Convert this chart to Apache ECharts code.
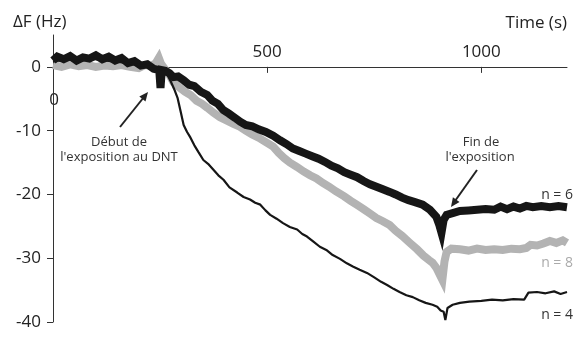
<!DOCTYPE html>
<html><head><meta charset="utf-8">
<script src="https://cdn.jsdelivr.net/npm/echarts@6/dist/echarts.min.js"></script>
<style>html,body{margin:0;padding:0;background:#fff}#c{width:576px;height:347px}</style>
</head><body><div id="c"></div>
<script>
// Time (s), ΔF (Hz)
const seriesN6 = [[0,1.0],[10,1.6],[25,1.2],[40,1.7],[55,1.0],[70,1.5],[85,1.3],[100,1.8],[115,1.2],[130,1.6],[145,1.0],[160,1.4],[175,0.6],[190,0.9],[205,0.2],[220,0.4],[235,-0.3],[248,-0.5],[251,-3.3],[254,-0.5],[262,-0.6],[272,-1.0],[281,-1.6],[292,-1.5],[305,-2.1],[318,-2.8],[330,-3.0],[345,-3.9],[360,-4.4],[372,-5.3],[385,-5.8],[398,-6.8],[410,-7.3],[425,-8.0],[437,-8.6],[450,-9.1],[465,-9.3],[480,-9.8],[497,-10.2],[514,-10.8],[530,-11.5],[545,-12.1],[560,-12.8],[575,-13.2],[590,-13.6],[605,-14.0],[620,-14.4],[635,-14.9],[650,-15.5],[665,-15.9],[680,-16.5],[695,-16.9],[710,-17.3],[725,-17.9],[740,-18.4],[755,-18.8],[770,-19.2],[786,-19.6],[800,-20.0],[815,-20.5],[830,-20.9],[845,-21.2],[863,-21.6],[880,-22.4],[895,-23.5],[902,-24.8],[907,-26.0],[912,-24.0],[919,-23.2],[935,-22.9],[950,-22.6],[970,-22.5],[990,-22.4],[1010,-22.3],[1030,-22.4],[1045,-21.9],[1060,-22.3],[1075,-21.9],[1090,-22.2],[1105,-21.8],[1120,-22.0],[1140,-21.8],[1160,-22.0],[1180,-21.8],[1200,-22.0]];
const seriesN8 = [[0,0.3],[20,0.0],[40,0.4],[60,0.1],[80,0.3],[100,0.0],[120,0.2],[140,0.1],[160,0.3],[180,0.0],[200,-0.2],[215,0.3],[230,0.2],[240,0.6],[247,1.4],[252,0.5],[263,-0.5],[272,-1.3],[281,-2.4],[295,-3.2],[308,-3.9],[321,-4.4],[335,-5.3],[348,-5.8],[360,-6.4],[375,-7.2],[390,-7.9],[405,-8.4],[420,-8.9],[437,-9.4],[450,-10.0],[465,-10.6],[480,-11.1],[497,-11.8],[514,-12.5],[527,-13.5],[540,-14.3],[553,-15.0],[570,-15.7],[585,-16.4],[600,-17.0],[615,-17.5],[630,-18.2],[645,-18.8],[660,-19.5],[680,-20.3],[695,-21.0],[709,-21.6],[725,-22.3],[740,-23.0],[755,-23.7],[770,-24.2],[786,-24.8],[800,-25.7],[815,-26.5],[833,-27.6],[850,-28.6],[865,-29.6],[878,-30.3],[886,-30.7],[895,-31.5],[903,-32.6],[909,-33.4],[914,-30.5],[919,-29.0],[930,-28.5],[950,-28.6],[970,-28.8],[990,-28.5],[1010,-28.7],[1030,-28.6],[1050,-28.7],[1070,-28.5],[1090,-28.6],[1105,-28.4],[1115,-27.9],[1130,-28.0],[1145,-27.7],[1160,-27.3],[1175,-27.6],[1190,-27.2],[1200,-27.6]];
const seriesN4 = [[0,0.8],[30,1.2],[60,0.9],[90,1.3],[120,1.0],[150,0.8],[180,0.5],[210,0.2],[235,0.0],[250,-0.3],[258,-0.5],[267,-1.25],[275,-2.3],[283,-3.5],[291,-4.9],[298,-7.0],[305,-9.1],[313,-10.2],[321,-11.1],[330,-12.3],[340,-13.4],[351,-14.6],[362,-15.2],[374,-16.1],[386,-17.0],[398,-17.7],[412,-18.9],[430,-19.7],[445,-20.4],[460,-20.8],[472,-21.3],[484,-21.6],[496,-22.5],[507,-23.2],[522,-23.8],[537,-24.5],[553,-25.1],[570,-25.5],[582,-26.2],[593,-26.6],[608,-27.4],[623,-28.2],[638,-28.7],[653,-29.5],[670,-30.1],[686,-30.8],[700,-31.3],[716,-31.8],[733,-32.3],[750,-33.0],[766,-33.7],[780,-34.2],[795,-34.8],[809,-35.3],[825,-35.8],[840,-36.1],[855,-36.6],[870,-37.0],[886,-37.3],[897,-37.6],[905,-38.2],[912,-38.4],[916,-39.7],[921,-37.8],[933,-37.3],[950,-37.0],[972,-36.8],[1000,-36.7],[1025,-36.5],[1050,-36.6],[1075,-36.4],[1100,-36.5],[1110,-35.4],[1130,-35.3],[1150,-35.5],[1170,-35.2],[1185,-35.6],[1200,-35.3]];
const xTicks = [500, 1000];
const yTicks = [-40, -30, -20, -10, 0];
const seriesLabels = ['n = 6', 'n = 8', 'n = 4'];

const FONT = '"Open Sans", "Noto Sans", sans-serif';
const chart = echarts.init(document.getElementById('c'), null, {renderer: 'canvas'});
const txt = (x, y, s, opt) => Object.assign({type: 'text', x: x, y: y, style: Object.assign({text: s, fontFamily: FONT, fontSize: 13, fill: '#333', align: 'center', verticalAlign: 'middle'}, opt || {})});
const baseOption = {
  animation: false,
  grid: {left: 53, right: 9, top: 35, bottom: 25},
  xAxis: {
    type: 'value', min: 0, max: 1200, interval: 500,
    axisLine: {onZero: true, lineStyle: {color: '#333', width: 1}},
    axisTick: {show: false},
    axisLabel: {show: false},
    splitLine: {show: false}
  },
  yAxis: {
    type: 'value', min: -40, max: 5, interval: 10,
    axisLine: {show: true, lineStyle: {color: '#333', width: 1}},
    axisTick: {show: true, length: 6, customValues: yTicks, lineStyle: {color: '#333'}},
    axisLabel: {customValues: yTicks, fontFamily: FONT, fontSize: 17, color: '#222', margin: 12},
    splitLine: {show: false}
  },
  series: [
    {name: seriesLabels[1], type: 'line', data: seriesN8, showSymbol: false, z: 2, lineStyle: {color: '#b3b3b3', width: 8, join: 'miter'}},
    {name: seriesLabels[0], type: 'line', data: seriesN6, showSymbol: false, z: 3, lineStyle: {color: '#161616', width: 8, join: 'miter'}},
    {name: seriesLabels[2], type: 'line', data: seriesN4, showSymbol: false, z: 4, lineStyle: {color: '#161616', width: 2.2}}
  ]
};
chart.setOption(baseOption);
const xAxisGraphics = [];
xTicks.forEach(v => {
  const p = chart.convertToPixel({xAxisIndex: 0, yAxisIndex: 0}, [v, 0]);
  const x = Math.round(p[0]) + 0.5;
  xAxisGraphics.push(txt(p[0], p[1] - 15, String(v), {fontSize: 17, fill: '#222'}));
  xAxisGraphics.push({type: 'line', z: 10, shape: {x1: x, y1: p[1], x2: x, y2: p[1] + 6}, style: {stroke: '#333', lineWidth: 1}});
});
const p0 = chart.convertToPixel({xAxisIndex: 0, yAxisIndex: 0}, [0, 0]);
chart.setOption({
  graphic: xAxisGraphics.concat([
    txt(13, 22, 'ΔF (Hz)', {fontSize: 17, align: 'left', fill: '#222'}),
    txt(567, 23, 'Time (s)', {fontSize: 17, align: 'right', fill: '#222'}),
    txt(p0[0] + 1, p0[1] + 33, '0', {fontSize: 17, fill: '#222'}),
    txt(119, 142, 'Début de'),
    txt(119, 157, "l'exposition au DNT"),
    txt(481, 142, 'Fin de'),
    txt(480, 157, "l'exposition"),
    txt(573, 195, seriesLabels[0], {align: 'right', fontSize: 14}),
    txt(573, 263, seriesLabels[1], {align: 'right', fontSize: 14, fill: '#aaa'}),
    txt(573, 315, seriesLabels[2], {align: 'right', fontSize: 14}),
    {type: 'line', shape: {x1: 120, y1: 127, x2: 144, y2: 97}, style: {stroke: '#222', lineWidth: 2}},
    {type: 'polygon', shape: {points: [[148, 92], [145.5, 101.5], [139.3, 96.5]]}, style: {fill: '#222'}},
    {type: 'line', shape: {x1: 477, y1: 170, x2: 455, y2: 201}, style: {stroke: '#222', lineWidth: 2}},
    {type: 'polygon', shape: {points: [[451, 207], [459.5, 201.9], [452.9, 197.3]]}, style: {fill: '#222'}}
  ])
});
</script></body></html>
